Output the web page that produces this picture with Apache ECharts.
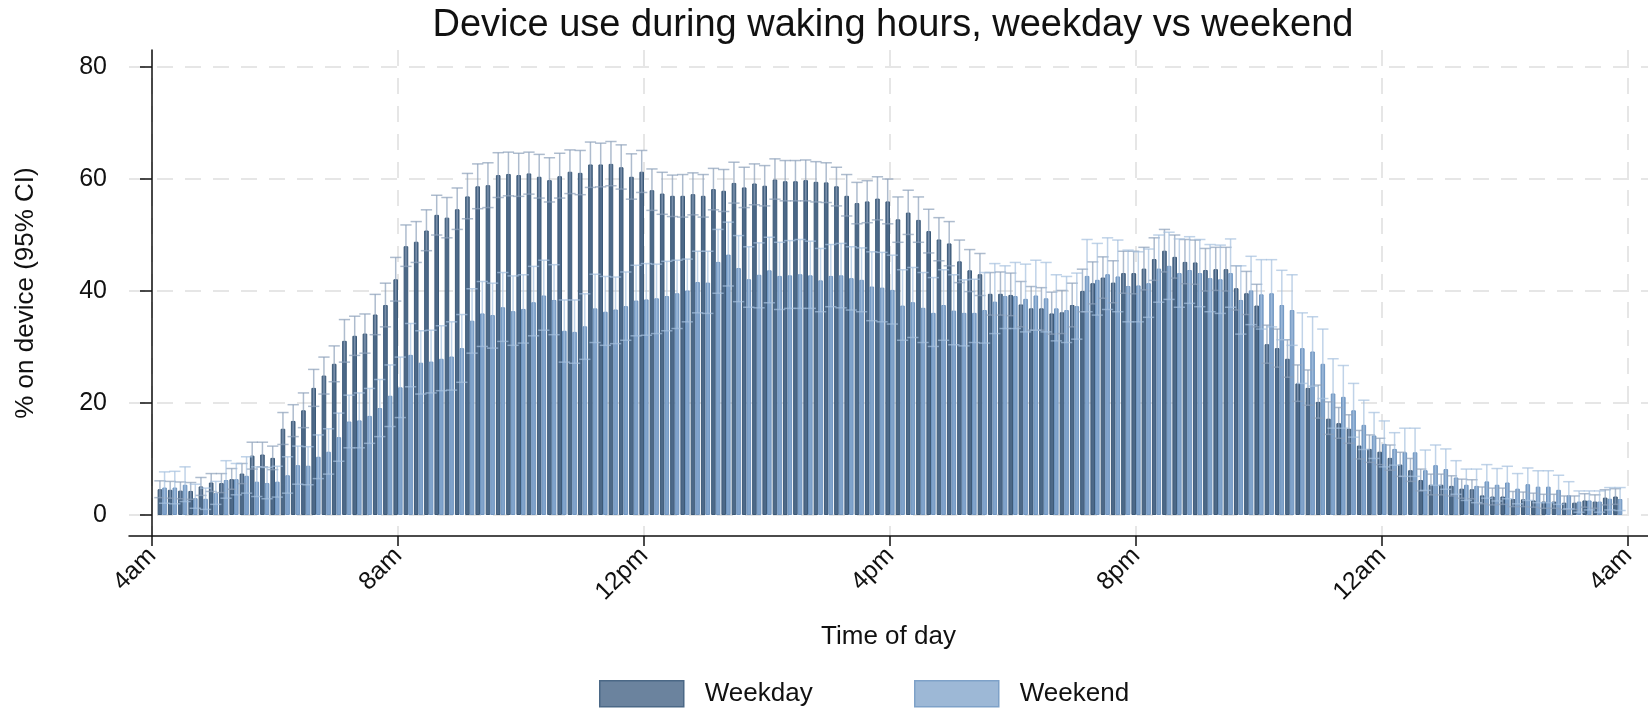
<!DOCTYPE html>
<html>
<head>
<meta charset="utf-8">
<title>Device use during waking hours</title>
<script src="https://cdn.jsdelivr.net/npm/echarts@6.0.0/dist/echarts.min.js"></script>
<style>
  html, body { margin: 0; padding: 0; background: #fff; }
  #chart { width: 1648px; height: 712px; }
</style>
</head>
<body>
<div id="chart"></div>
<script>
// minutes after 4am, one slot every 10 minutes (4:10am ... 3:50am)
var slots = [];
for (var m = 10; m < 1440; m += 10) slots.push(m);

var tickValues = [0, 240, 480, 720, 960, 1200, 1440];
var tickLabels = ['4am', '8am', '12pm', '4pm', '8pm', '12am', '4am'];
var yTicks = [0, 20, 40, 60, 80];

var weekday = [4.6,4.5,4.35,4.3,5.1,5.8,5.7,6.4,7.4,10.6,10.8,10.2,15.4,16.8,18.7,22.7,24.9,27.0,31.1,32.0,32.4,35.8,37.5,42.1,
  48.0,48.8,50.8,53.6,53.1,54.6,56.9,58.7,58.9,60.7,60.9,60.7,61.0,60.4,59.8,60.5,61.3,61.1,62.6,62.6,62.7,62.1,60.4,61.3,
  58.0,57.4,57.0,57.0,57.3,57.0,58.2,57.9,59.3,58.5,59.2,58.8,59.9,59.6,59.6,59.8,59.5,59.4,58.7,57.0,55.7,56.0,56.5,56.0,
  52.8,54.0,52.7,50.7,49.2,48.5,45.3,43.7,43.0,39.5,39.5,39.3,37.6,36.9,36.9,36.0,36.2,37.5,40.0,41.4,42.4,41.5,43.2,43.2,
  44.0,45.7,47.2,46.1,45.2,45.1,43.75,43.9,43.9,40.5,39.6,37.4,30.5,29.8,27.9,23.5,22.7,20.2,17.2,16.4,15.4,12.4,11.8,11.3,
  10.2,9.0,8.0,6.25,5.4,5.4,5.2,4.7,4.6,3.5,3.3,3.3,2.85,2.8,2.6,2.4,2.4,2.2,2.2,2.6,2.4,3.1,3.3];
var weekdayHi = [6.1,6.0,5.9,5.8,6.7,7.4,7.4,8.3,9.2,13.0,13.0,12.3,18.3,19.7,21.8,26.0,28.2,30.2,34.9,35.5,35.9,39.4,41.4,46.0,
  51.8,52.4,54.5,57.1,56.7,58.4,61.0,62.7,62.9,64.7,64.8,64.6,64.8,64.4,63.8,64.6,65.2,65.1,66.6,66.4,66.7,66.1,64.5,65.1,
  61.8,61.2,60.7,60.8,61.1,60.8,61.9,61.7,63.0,62.1,62.7,62.4,63.6,63.3,63.3,63.4,63.1,62.9,62.1,60.8,59.4,59.7,60.4,60.0,
  56.8,58.0,56.8,54.6,53.1,52.4,49.1,47.4,46.7,43.3,43.4,43.2,41.7,40.8,40.6,39.8,40.1,41.4,43.9,45.2,46.1,45.4,47.1,47.1,
  47.8,49.5,51.0,50.0,49.2,49.1,47.6,47.8,47.8,44.5,43.5,41.2,33.9,33.2,31.3,26.8,25.9,23.2,20.2,19.2,17.9,15.1,14.3,13.7,
  12.5,11.2,10.1,8.2,7.3,7.3,7.0,6.4,6.3,5.0,4.8,4.8,4.2,4.1,3.9,3.7,3.7,3.4,3.4,3.8,3.6,4.5,4.7];
var weekdayLo = [3.1,3.0,2.9,2.8,3.5,4.2,4.0,4.6,5.6,8.2,8.6,8.1,12.6,14.0,15.6,19.4,21.6,23.8,27.3,28.5,28.9,32.2,33.6,38.2,
  44.4,45.1,47.2,50.0,49.5,51.0,52.9,54.7,54.9,56.7,57.0,56.9,57.3,56.6,55.9,56.6,57.4,57.2,58.5,58.6,58.8,58.2,56.4,57.6,
  54.4,53.7,53.3,53.2,53.6,53.2,54.5,54.2,55.7,54.9,55.4,55.2,56.4,56.1,56.1,56.1,55.9,55.8,55.2,53.4,52.0,52.2,52.7,52.0,
  48.7,50.1,48.7,46.8,45.4,44.5,41.5,39.9,39.2,35.7,35.7,35.6,33.6,33.0,33.0,32.3,32.4,33.6,36.3,37.7,38.7,37.9,39.6,39.5,
  40.2,41.9,43.4,42.3,41.3,41.2,40.0,40.1,40.0,36.6,35.8,33.6,27.1,26.4,24.6,20.3,19.6,17.3,14.4,13.7,12.8,10.0,9.4,9.0,
  8.0,6.9,6.0,4.3,3.6,3.6,3.4,3.0,2.9,2.0,1.8,1.9,1.5,1.5,1.4,1.2,1.2,1.0,1.0,1.4,1.2,1.8,1.9];

var weekend = [4.9,4.9,5.4,3.0,2.9,3.9,6.25,6.4,7.0,5.95,5.7,5.95,7.1,8.9,8.8,10.4,11.3,13.9,16.7,16.9,17.7,19.1,21.3,22.8,
  28.6,27.2,27.4,27.9,28.3,29.8,34.7,36.0,35.7,37.1,36.4,36.8,38.0,39.2,38.4,32.9,32.7,33.7,36.9,36.3,36.7,37.3,38.3,38.5,
  38.7,39.1,39.6,40.1,41.6,41.5,45.2,46.5,44.1,42.1,42.9,43.7,42.7,42.8,43.0,42.8,41.9,42.7,42.8,42.3,42.0,40.8,40.6,40.2,
  37.4,38.0,37.0,36.1,37.5,36.5,36.1,36.1,36.6,38.1,39.1,39.1,38.6,39.2,38.7,36.9,36.6,37.3,42.7,42.0,43.0,42.6,40.9,41.0,
  41.4,44.0,44.5,43.2,43.75,43.2,42.3,42.1,43.2,38.4,40.1,39.4,39.6,37.5,36.6,29.8,29.2,27.0,21.7,21.1,18.7,16.1,14.2,12.7,
  11.8,11.2,11.2,8.0,8.9,8.2,6.7,5.4,5.2,6.0,5.4,5.8,4.7,5.5,5.06,5.06,4.5,3.5,2.4,2.6,2.4,2.9,2.85];
var weekendHi = [7.7,7.8,8.6,5.5,4.8,6.0,9.7,9.2,10.4,8.6,8.5,8.7,10.4,12.3,12.2,14.3,15.4,18.2,21.4,21.8,22.6,24.2,26.8,28.2,
  34.2,32.9,33.0,33.8,34.5,35.8,40.4,41.7,41.4,43.3,42.7,42.9,44.4,45.5,44.7,38.4,38.4,39.5,43.0,42.6,42.5,43.4,44.6,44.9,
  44.8,45.3,45.5,45.7,47.1,47.1,51.0,52.3,49.9,47.9,48.6,49.6,48.7,49.0,49.2,48.9,47.6,48.3,48.5,47.9,47.7,47.0,46.9,46.4,
  43.8,44.2,43.3,42.4,43.8,42.9,42.0,42.1,43.3,44.9,44.5,45.1,44.8,45.5,45.1,42.9,42.6,43.2,49.2,48.5,49.5,49.1,47.3,47.0,
  47.5,50.0,50.5,49.3,49.7,49.2,48.3,48.2,49.3,44.5,46.2,45.6,45.6,43.7,42.9,36.1,35.4,33.2,27.9,26.7,23.5,20.5,18.3,16.8,
  14.7,15.5,15.5,11.6,12.5,11.8,9.7,8.2,8.2,9.0,8.3,8.7,7.4,8.4,7.9,7.9,7.1,5.95,4.3,4.3,4.3,4.9,4.9];
var weekendLo = [2.1,2.0,2.4,1.2,1.0,1.9,3.0,3.6,3.9,3.3,2.9,3.2,3.9,5.5,5.4,6.5,7.3,9.6,12.0,12.0,12.8,14.0,15.8,17.4,
  22.9,21.6,21.8,22.2,22.3,23.7,28.9,30.1,29.8,31.0,30.3,30.7,32.0,33.0,32.2,27.3,27.1,27.8,30.8,30.3,30.6,31.2,32.0,32.1,
  32.4,32.9,33.3,34.5,36.1,36.0,39.6,40.9,38.1,37.1,37.0,37.9,36.7,36.9,36.9,36.9,36.3,37.2,37.0,36.6,36.3,34.7,34.5,34.1,
  31.2,31.7,30.8,30.1,31.2,30.4,30.2,30.8,30.7,32.4,33.3,33.3,32.7,33.0,32.7,31.1,30.8,31.4,36.3,35.7,36.7,36.3,34.5,34.5,
  35.3,38.0,38.5,37.1,37.8,37.2,36.3,36.0,37.1,32.3,34.0,33.2,33.6,31.3,30.3,23.5,23.0,20.8,15.5,15.5,13.9,11.7,10.1,8.6,
  8.9,6.9,6.9,4.4,5.3,4.6,3.7,2.6,2.2,3.0,2.5,2.9,2.0,2.6,2.2,2.2,1.9,1.1,0.5,0.9,0.5,0.9,0.8];

var FONT = '"Liberation Sans", Arial, sans-serif';

function pairs(ys) {
    return slots.map(function(x, i) { return [x, ys[i]]; });
}
function ranges(lo, hi) {
    return slots.map(function(x, i) { return [x, lo[i], hi[i]]; });
}

// whisker with caps, shifted onto its own bar of the pair
function ciItem(shift, color) {
    return function(params, api) {
        var x = api.value(0);
        var pLo = api.coord([x, api.value(1)]);
        var pHi = api.coord([x, api.value(2)]);
        var slot = api.size([10, 0])[0];
        var cx = pLo[0] + slot * shift;
        var half = slot * 0.55;
        var st = { stroke: color, lineWidth: 1.5 };
        return {
            type: 'group',
            children: [
                { type: 'line', shape: { x1: cx, y1: pHi[1], x2: cx, y2: pLo[1] }, style: st },
                { type: 'line', shape: { x1: cx - half, y1: pHi[1], x2: cx + half, y2: pHi[1] }, style: st },
                { type: 'line', shape: { x1: cx - half, y1: pLo[1], x2: cx + half, y2: pLo[1] }, style: st }
            ]
        };
    };
}

var chart = echarts.init(document.getElementById('chart'));

var gridLine = { show: true, lineStyle: { color: '#e6e6e6', width: 2, type: [16, 12] } };

var option = {
    backgroundColor: '#fff',
    animation: false,
    title: {
        text: 'Device use during waking hours, weekday vs weekend',
        left: 888,
        top: 2,
        textAlign: 'center',
        textStyle: { fontFamily: FONT, fontSize: 38, fontWeight: 'normal', color: '#111' }
    },
    legend: [{
        data: [{ name: 'Weekday', itemStyle: { color: '#6b839e', borderColor: '#4b6886', borderWidth: 1.5 } }],
        left: 599, top: 680, padding: 0, itemWidth: 84, itemHeight: 26, icon: 'rect',
        textStyle: { fontFamily: FONT, fontSize: 26, color: '#111', padding: [0, 0, 0, 16] }
    }, {
        data: [{ name: 'Weekend', itemStyle: { color: '#9db8d6', borderColor: '#7ea1c8', borderWidth: 1.5 } }],
        left: 914, top: 680, padding: 0, itemWidth: 84, itemHeight: 26, icon: 'rect',
        textStyle: { fontFamily: FONT, fontSize: 26, color: '#111', padding: [0, 0, 0, 16] }
    }],
    grid: { left: 129, right: 0, top: 50, bottom: 176, containLabel: false },
    xAxis: {
        type: 'value',
        min: -22.44,
        max: 1459.5,
        name: 'Time of day',
        nameLocation: 'middle',
        nameGap: 88,
        nameTextStyle: { fontFamily: FONT, fontSize: 26, color: '#111' },
        axisLine: { onZero: false, lineStyle: { color: '#111', width: 1.5 } },
        axisTick: { customValues: tickValues, length: 10, lineStyle: { color: '#111', width: 1.5 } },
        axisLabel: {
            customValues: tickValues,
            rotate: 45,
            margin: 16,
            fontFamily: FONT, fontSize: 25, color: '#111',
            formatter: function(v) { return tickLabels[tickValues.indexOf(v)]; }
        },
        splitLine: gridLine
    },
    yAxis: {
        type: 'value',
        min: -3.75,
        max: 83.04,
        name: '% on device (95% CI)',
        nameLocation: 'middle',
        nameGap: 90,
        nameTextStyle: { fontFamily: FONT, fontSize: 26, color: '#111' },
        axisLine: { show: true, lineStyle: { color: '#111', width: 1.5 } },
        axisTick: { show: true, customValues: yTicks, length: 12, lineStyle: { color: '#111', width: 1.5 } },
        axisLabel: { customValues: yTicks, margin: 22, fontFamily: FONT, fontSize: 25, color: '#111' },
        splitLine: gridLine
    },
    series: [{
        name: 'Weekday',
        type: 'bar',
        data: pairs(weekday),
        barWidth: '45%',
        barGap: '0%',
        itemStyle: { color: '#4d6988', borderColor: '#3d5a78', borderWidth: 1 },
        z: 2
    }, {
        name: 'Weekend',
        type: 'bar',
        data: pairs(weekend),
        barWidth: '45%',
        barGap: '0%',
        itemStyle: { color: '#80a3cb', borderColor: '#6f95c0', borderWidth: 1 },
        z: 2
    }, {
        name: 'Weekday CI',
        type: 'custom',
        data: ranges(weekdayLo, weekdayHi),
        renderItem: ciItem(-0.225, 'rgba(140,160,185,0.7)'),
        encode: { x: 0, y: [1, 2] },
        z: 4
    }, {
        name: 'Weekend CI',
        type: 'custom',
        data: ranges(weekendLo, weekendHi),
        renderItem: ciItem(0.225, 'rgba(165,192,222,0.7)'),
        encode: { x: 0, y: [1, 2] },
        z: 4
    }]
};

chart.setOption(option);
</script>
</body>
</html>
